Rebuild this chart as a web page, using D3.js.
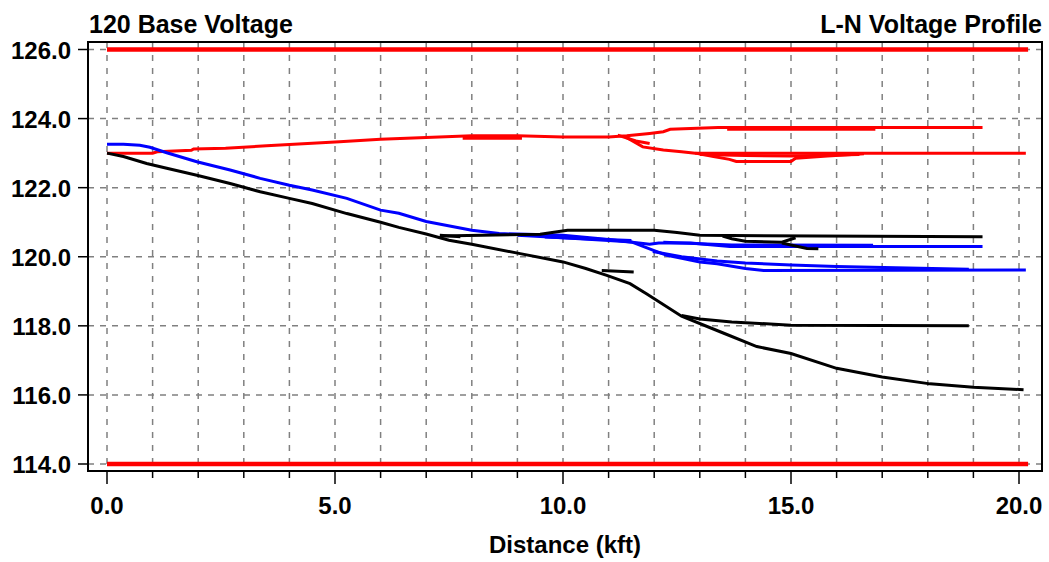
<!doctype html>
<html>
<head>
<meta charset="utf-8">
<script src="https://d3js.org/d3.v7.min.js"></script>
<style>
body { margin: 0; background: #fff; }
text { font-family: "Liberation Sans", Arial, sans-serif; font-weight: bold; fill: #000; }
</style>
</head>
<body>
<svg id="chart" width="1049" height="562"></svg>
<script>

// distance in kft, voltage on a 120 V base
var xTicks = [0,1,2,3,4,5,6,7,8,9,10,11,12,13,14,15,16,17,18,19,20];
var xMajorTicks = [0,5,10,15,20];
var yTicks = [114,116,118,120,122,124,126];

// ANSI limits, drawn as the two thick red lines
var limitHigh = 126, limitLow = 114;
var limitSpan = [0, 20.2];

// phase A (red) branches
var phaseA = [
  [[0,123.0],[1.0,123.0],[1.1,123.04],[1.85,123.08],[1.9,123.12],[2.6,123.14],[3.5,123.21],[4.4,123.28],[5.1,123.33],[6.0,123.4],[7.0,123.45],[8.0,123.5],[9.0,123.5],[10.0,123.47],[11.0,123.47],[11.4,123.5],[11.9,123.57],[12.2,123.62],[12.35,123.69],[13.4,123.74],[19.2,123.74]],
  [[11.4,123.45],[11.75,123.18],[12.2,123.09],[12.6,123.04],[12.9,123.0],[20.15,123.0]],
  [[12.9,123.0],[13.3,122.9],[13.65,122.82],[13.8,122.76],[15.0,122.76],[15.1,122.85],[15.8,122.92],[16.6,122.98]],
  [[13.0,122.96],[14.0,122.93],[15.0,122.92],[16.5,122.96]],
  [[13.6,123.69],[16.85,123.69]],
  [[7.8,123.43],[9.1,123.43]],
  [[11.2,123.52],[11.6,123.35],[11.9,123.28]]
];

// phase B (blue) branches
var phaseB = [
  [[0,123.26],[0.36,123.26],[0.72,123.23],[0.94,123.17],[1.31,123.01],[1.97,122.75],[2.7,122.51],[3.36,122.27],[4.0,122.07],[4.5,121.93],[5.26,121.69],[6.0,121.35],[6.4,121.26],[7.0,121.02],[8.0,120.77],[8.6,120.67],[10.0,120.62],[11.0,120.5],[11.9,120.36],[12.1,120.4],[12.8,120.4],[13.66,120.3],[19.2,120.3]],
  [[9.0,120.62],[10.0,120.55],[11.0,120.47],[11.5,120.43],[11.97,120.19],[12.28,120.04],[12.63,119.95],[13.0,119.85],[13.38,119.8],[14.0,119.66],[14.4,119.6],[20.15,119.62]],
  [[11.97,120.15],[12.6,120.0],[13.38,119.88],[14.0,119.82],[15.0,119.76],[16.0,119.72],[17.3,119.68],[18.9,119.64]],
  [[9.6,120.57],[10.5,120.52],[11.5,120.47]],
  [[12.2,120.42],[13.7,120.34],[16.8,120.33]]
];

// phase C (black) branches
var phaseC = [
  [[0,123.0],[0.36,122.9],[0.87,122.7],[1.31,122.56],[1.97,122.36],[2.7,122.12],[3.36,121.88],[4.0,121.69],[4.5,121.54],[5.26,121.25],[6.0,121.0],[6.4,120.85],[7.0,120.66],[7.5,120.48],[8.0,120.36],[9.06,120.09],[10.0,119.85],[10.5,119.66],[10.96,119.46],[11.47,119.22],[11.83,118.93],[12.6,118.28],[13.5,117.8],[14.25,117.4],[15.0,117.2],[16.0,116.77],[17.0,116.52],[18.05,116.32],[19.0,116.22],[20.1,116.15]],
  [[7.3,120.6],[9.5,120.65],[10.1,120.77],[12.0,120.77],[12.5,120.7],[13.0,120.62],[19.2,120.58]],
  [[13.5,120.6],[13.7,120.52],[14.0,120.45],[14.8,120.42],[15.1,120.55]],
  [[14.8,120.4],[15.35,120.24],[15.6,120.23]],
  [[10.85,119.6],[11.55,119.56]],
  [[7.3,120.62],[7.75,120.58]],
  [[12.6,118.3],[13.0,118.2],[13.7,118.11],[15.0,118.02],[18.9,118.0]]
];

var svg = d3.select("#chart");

var frame = {left: 88, top: 42, right: 1042, bottom: 471};

var x = d3.scaleLinear().domain([0, 20]).range([107, 1019]);
var y = d3.scaleLinear().domain([114, 126]).range([464, 49.5]);

// grid
svg.append("g").selectAll("line")
  .data(xTicks)
  .enter().append("line")
  .attr("x1", function(d) { return x(d); })
  .attr("x2", function(d) { return x(d); })
  .attr("y1", frame.top)
  .attr("y2", frame.bottom)
  .style("stroke", "#808080")
  .style("stroke-width", 1.5)
  .style("stroke-dasharray", "6,7");

svg.append("g").selectAll("line")
  .data(yTicks)
  .enter().append("line")
  .attr("x1", frame.left)
  .attr("x2", frame.right)
  .attr("y1", function(d) { return y(d); })
  .attr("y2", function(d) { return y(d); })
  .style("stroke", "#808080")
  .style("stroke-width", 1.5)
  .style("stroke-dasharray", "6,6");

// limit lines
svg.append("g").selectAll("line")
  .data([limitHigh, limitLow])
  .enter().append("line")
  .attr("x1", x(limitSpan[0]))
  .attr("x2", x(limitSpan[1]))
  .attr("y1", function(d) { return y(d); })
  .attr("y2", function(d) { return y(d); })
  .style("stroke", "#ff0000")
  .style("stroke-width", 4.5);

var line = d3.line()
  .x(function(d) { return x(d[0]); })
  .y(function(d) { return y(d[1]); });

function drawPhase(branches, color) {
  svg.append("g").selectAll("path")
    .data(branches)
    .enter().append("path")
    .attr("d", line)
    .style("fill", "none")
    .style("stroke", color)
    .style("stroke-width", 3);
}
drawPhase(phaseA, "#ff0000");
drawPhase(phaseB, "#0000ff");
drawPhase(phaseC, "#000000");

// frame
svg.append("rect")
  .attr("x", frame.left)
  .attr("y", frame.top)
  .attr("width", frame.right - frame.left)
  .attr("height", frame.bottom - frame.top)
  .style("fill", "none")
  .style("stroke", "#000")
  .style("stroke-width", 2);

// y axis ticks and labels
svg.append("g").selectAll("line")
  .data(yTicks)
  .enter().append("line")
  .attr("x1", 78).attr("x2", frame.left)
  .attr("y1", function(d) { return y(d); })
  .attr("y2", function(d) { return y(d); })
  .style("stroke", "#000").style("stroke-width", 1.5);

svg.append("g").selectAll("text")
  .data(yTicks)
  .enter().append("text")
  .attr("x", 71)
  .attr("y", function(d) { return y(d) + 9; })
  .attr("text-anchor", "end")
  .style("font-size", "24px")
  .text(function(d) { return d3.format(".1f")(d); });

// x axis ticks and labels
svg.append("g").selectAll("line")
  .data(xTicks)
  .enter().append("line")
  .attr("x1", function(d) { return x(d); })
  .attr("x2", function(d) { return x(d); })
  .attr("y1", frame.bottom)
  .attr("y2", function(d) { return xMajorTicks.indexOf(d) >= 0 ? 484 : 478; })
  .style("stroke", "#000").style("stroke-width", 1.5);

svg.append("g").selectAll("text")
  .data(xMajorTicks)
  .enter().append("text")
  .attr("x", function(d) { return x(d); })
  .attr("y", 514)
  .attr("text-anchor", "middle")
  .style("font-size", "24px")
  .text(function(d) { return d3.format(".1f")(d); });

svg.append("text")
  .attr("x", 565)
  .attr("y", 553)
  .attr("text-anchor", "middle")
  .style("font-size", "24px")
  .text("Distance (kft)");

// titles
svg.append("text")
  .attr("x", 89)
  .attr("y", 33)
  .style("font-size", "25px")
  .text("120 Base Voltage");

svg.append("text")
  .attr("x", 1042)
  .attr("y", 33)
  .attr("text-anchor", "end")
  .style("font-size", "25px")
  .text("L-N Voltage Profile");

</script>
</body>
</html>
